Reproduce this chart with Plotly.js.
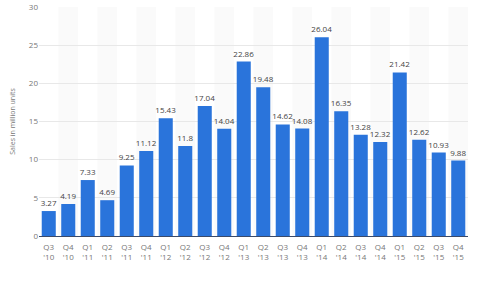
<!DOCTYPE html>
<html><head><meta charset="utf-8">
<script src="https://cdn.plot.ly/plotly-3.0.1.min.js"></script>
<style>html,body{margin:0;padding:0;background:#fff}#c{width:480px;height:299px}</style>
</head><body><div id="c"></div>
<script>
const categories = ["Q3<br>'10","Q4<br>'10","Q1<br>'11","Q2<br>'11","Q3<br>'11","Q4<br>'11","Q1<br>'12","Q2<br>'12","Q3<br>'12","Q4<br>'12","Q1<br>'13","Q2<br>'13","Q3<br>'13","Q4<br>'13","Q1<br>'14","Q2<br>'14","Q3<br>'14","Q4<br>'14","Q1<br>'15","Q2<br>'15","Q3<br>'15","Q4<br>'15"];
const sales = [3.27,4.19,7.33,4.69,9.25,11.12,15.43,11.8,17.04,14.04,22.86,19.48,14.62,14.08,26.04,16.35,13.28,12.32,21.42,12.62,10.93,9.88];
const labels = sales.map(v => String(v));
const yTicks = [0,5,10,15,20,25,30];

const shapes = [];
categories.forEach((c,i) => {
  if (i % 2 === 1) shapes.push({type:'rect', xref:'x', yref:'paper', x0:i-0.5, x1:i+0.5, y0:0, y1:1, fillcolor:'#fafafa', line:{width:0}, layer:'below'});
});

Plotly.newPlot('c', [{
  type:'bar', x:categories.map((c,i)=>i), y:sales,
  marker:{color:'#2a74db'},
  text:labels, textposition:'outside', cliponaxis:false, constraintext:'none',
  textfont:{family:'Open Sans, sans-serif', size:8, color:'#444'},
  outsidetextfont:{family:'Open Sans, sans-serif', size:8, color:'#444'},
  hoverinfo:'none'
}], {
  width:480, height:299,
  margin:{l:39, r:12, t:7, b:63},
  paper_bgcolor:'#fff', plot_bgcolor:'rgba(0,0,0,0)',
  bargap:0.28, showlegend:false,
  shapes:shapes,
  xaxis:{
    tickmode:'array', tickvals:categories.map((c,i)=>i), ticktext:categories,
    range:[-0.5, categories.length-0.5],
    showgrid:false, showline:true, linecolor:'#3a4a6a', linewidth:1,
    ticks:'outside', ticklen:3, tickcolor:'rgba(0,0,0,0)',
    tickfont:{family:'Open Sans, sans-serif', size:8, color:'#777'}
  },
  yaxis:{
    range:[0,30], tickvals:yTicks, showgrid:true, gridcolor:'#e8e8e8', gridwidth:1,
    zeroline:false, ticks:'', ticklen:0,
    tickfont:{family:'Open Sans, sans-serif', size:8, color:'#777'},
    title:{text:'Sales in million units', standoff:12, font:{family:'Open Sans, sans-serif', size:7, color:'#777'}}
  },
  font:{family:'Open Sans, sans-serif'}
}, {staticPlot:true});
</script></body></html>
